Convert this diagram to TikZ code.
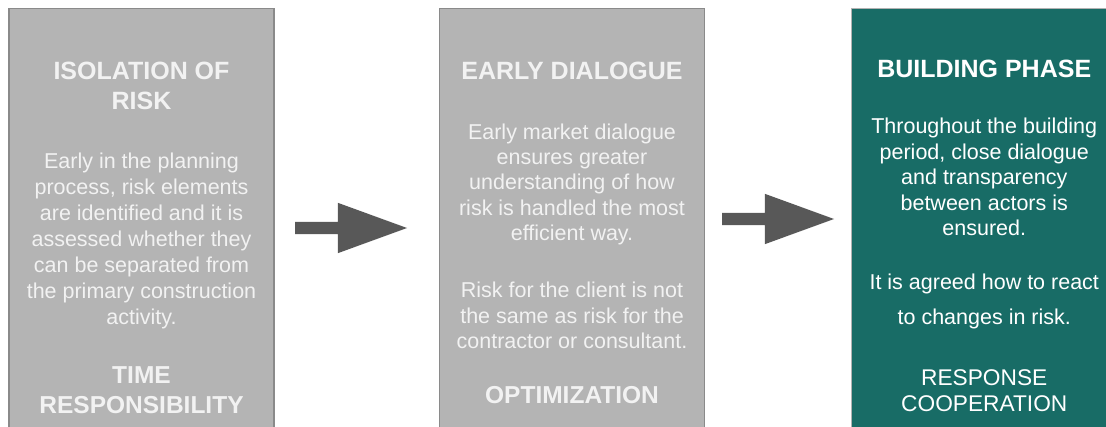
\documentclass[tikz,border=0pt]{standalone}
\usepackage{fontspec}
\setmainfont{Liberation Sans}
\usepackage{tikz}
\usetikzlibrary{shapes.arrows, positioning}

\definecolor{boxgray}{RGB}{180,180,180}
\definecolor{edgegray}{RGB}{138,138,138}
\definecolor{textgray}{RGB}{242,242,242}
\definecolor{phaseteal}{RGB}{24,108,102}
\definecolor{arrowgray}{RGB}{88,88,88}

\begin{document}
\begin{tikzpicture}[
  x=1pt, y=1pt,
  phase/.style={rectangle, draw=edgegray, line width=1.5pt, fill=boxgray, minimum width=265pt, minimum height=450pt, anchor=north},
  active/.style={phase, fill=phaseteal, draw=gray!60, line width=1pt},
  % multi-line texts sit on the baseline of their last line
  title/.style={align=center, inner sep=0pt, anchor=base, text=textgray, font=\bfseries\fontsize{25}{30}\selectfont},
  body/.style={align=center, inner sep=0pt, anchor=base, text=textgray, font=\fontsize{21.5}{25.5}\selectfont},
  foot/.style={title, font=\bfseries\fontsize{24.5}{30}\selectfont},
  blockarrow/.style={single arrow, fill=arrowgray, inner sep=6pt, minimum height=112pt, minimum width=50pt, single arrow head extend=19pt, single arrow tip angle=40}
]
\clip (0,0) rectangle (1106,-427);

% the three phases
\node[phase] (iso) at (141.5,-8) {};
\node[phase, right=164pt of iso] (dia) {};
\node[active, right=146pt of dia] (bld) {};

% isolation of risk
\node[title] (isoT) at ([yshift=-102pt]iso.north) {ISOLATION OF\\RISK};
\node[body, font=\fontsize{21.5}{26}\selectfont] (isoB) at ([yshift=-317pt]iso.north) {Early in the planning\\process, risk elements\\are identified and it is\\assessed whether they\\can be separated from\\the primary construction\\activity.};
\node[foot] (isoF) at ([yshift=-406pt]iso.north) {TIME\\RESPONSIBILITY};

% early dialogue
\node[title] (diaT) at ([yshift=-72pt]dia.north) {EARLY DIALOGUE};
\node[body] (diaB) at ([yshift=-341pt]dia.north) {Early market dialogue\\ensures greater\\understanding of how\\risk is handled the most\\efficient way.\\[31.5pt]Risk for the client is not\\the same as risk for the\\contractor or consultant.};
\node[foot] (diaF) at ([yshift=-396pt]dia.north) {OPTIMIZATION};

% building phase
\node[title, text=white] (bldT) at ([yshift=-69pt]bld.north) {BUILDING PHASE};
\node[body, text=white] (bldB) at ([yshift=-316pt]bld.north) {Throughout the building\\period, close dialogue\\and transparency\\between actors is\\ensured.\\[28pt]It is agreed how to react\\[9.5pt]to changes in risk.};
\node[body, text=white, font=\fontsize{22.7}{26}\selectfont] (bldF) at ([yshift=-403pt]bld.north) {RESPONSE\\COOPERATION};

% arrows between the phases
\node[blockarrow] (a1) at (342.5,-228) {};
\node[blockarrow] (a2) at (769.5,-219) {};

\end{tikzpicture}
\end{document}
